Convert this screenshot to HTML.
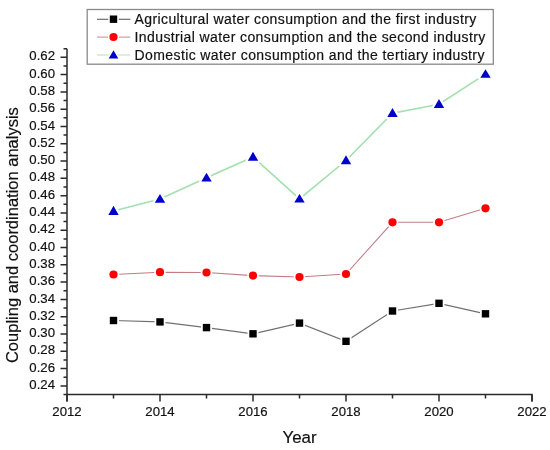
<!DOCTYPE html>
<html><head><meta charset="utf-8"><style>
html,body{margin:0;padding:0;background:#fff;width:550px;height:450px;overflow:hidden}
svg{display:block;will-change:transform;filter:blur(0.35px);font-family:"Liberation Sans",sans-serif}
text{stroke:#111;stroke-width:0.18px}
</style></head><body>
<svg width="550" height="450" viewBox="0 0 550 450">
<path d="M67.0,48.65 V401.53 M66.25,394.53 H532.0 V401.53" fill="none" stroke="#2a2a2a" stroke-width="1.5"/>
<path d="M63.5,394.53H67.0M60.5,385.89H67.0M63.5,377.24H67.0M60.5,368.59H67.0M63.5,359.94H67.0M60.5,351.3H67.0M63.5,342.65H67.0M60.5,334.0H67.0M63.5,325.36H67.0M60.5,316.71H67.0M63.5,308.06H67.0M60.5,299.42H67.0M63.5,290.77H67.0M60.5,282.12H67.0M63.5,273.48H67.0M60.5,264.83H67.0M63.5,256.18H67.0M60.5,247.53H67.0M63.5,238.89H67.0M60.5,230.24H67.0M63.5,221.59H67.0M60.5,212.95H67.0M63.5,204.3H67.0M60.5,195.65H67.0M63.5,187.0H67.0M60.5,178.36H67.0M63.5,169.71H67.0M60.5,161.06H67.0M63.5,152.42H67.0M60.5,143.77H67.0M63.5,135.12H67.0M60.5,126.48H67.0M63.5,117.83H67.0M60.5,109.18H67.0M63.5,100.54H67.0M60.5,91.89H67.0M63.5,83.24H67.0M60.5,74.59H67.0M63.5,65.95H67.0M60.5,57.3H67.0M63.5,48.65H67.0" stroke="#2a2a2a" stroke-width="1.5"/>
<path d="M67.0,394.53V401.53M113.5,394.53V398.53M160.0,394.53V401.53M206.5,394.53V398.53M253.0,394.53V401.53M299.5,394.53V398.53M346.0,394.53V401.53M392.5,394.53V398.53M439.0,394.53V401.53M485.5,394.53V398.53M532.0,394.53V401.53" stroke="#2a2a2a" stroke-width="1.5"/>
<g font-size="13.2" text-anchor="end" fill="#111"><text x="55" y="388.99">0.24</text><text x="55" y="371.69">0.26</text><text x="55" y="354.4">0.28</text><text x="55" y="337.1">0.30</text><text x="55" y="319.81">0.32</text><text x="55" y="302.52">0.34</text><text x="55" y="285.22">0.36</text><text x="55" y="267.93">0.38</text><text x="55" y="250.63">0.40</text><text x="55" y="233.34">0.42</text><text x="55" y="216.05">0.44</text><text x="55" y="198.75">0.46</text><text x="55" y="181.46">0.48</text><text x="55" y="164.16">0.50</text><text x="55" y="146.87">0.52</text><text x="55" y="129.58">0.54</text><text x="55" y="112.28">0.56</text><text x="55" y="94.99">0.58</text><text x="55" y="77.69">0.60</text><text x="55" y="60.4">0.62</text></g>
<g font-size="13.2" text-anchor="middle" fill="#111"><text x="67.0" y="416">2012</text><text x="160.0" y="416">2014</text><text x="253.0" y="416">2016</text><text x="346.0" y="416">2018</text><text x="439.0" y="416">2020</text><text x="532.0" y="416">2022</text></g>
<text x="299.5" y="443" font-size="16.9" text-anchor="middle" fill="#111">Year</text>
<text transform="translate(18,235.1) rotate(-90)" font-size="16.5" text-anchor="middle" fill="#111">Coupling and coordination analysis</text>
<polyline points="113.5,320.5 160.0,321.9 206.5,327.6 253.0,333.8 299.5,323.1 346.0,341.3 392.5,311 439.0,303.3 485.5,313.8" fill="none" stroke="#707070" stroke-width="1.25"/>
<polyline points="113.5,274.5 160.0,272.2 206.5,272.5 253.0,275.6 299.5,277 346.0,274 392.5,222.3 439.0,222.3 485.5,208.3" fill="none" stroke="#c47c84" stroke-width="1.1"/>
<polyline points="113.5,211.036 160.0,199.046 206.5,177.788 253.0,157.02 299.5,198.93 346.0,160.52 392.5,113.22 439.0,104.162 485.5,74.172" fill="none" stroke="#a2e0ac" stroke-width="1.6"/>
<g fill="#000" stroke="#fff" stroke-width="3.6" paint-order="stroke"><rect x="109.80" y="316.80" width="7.4" height="7.4"/><rect x="156.30" y="318.20" width="7.4" height="7.4"/><rect x="202.80" y="323.90" width="7.4" height="7.4"/><rect x="249.30" y="330.10" width="7.4" height="7.4"/><rect x="295.80" y="319.40" width="7.4" height="7.4"/><rect x="342.30" y="337.60" width="7.4" height="7.4"/><rect x="388.80" y="307.30" width="7.4" height="7.4"/><rect x="435.30" y="299.60" width="7.4" height="7.4"/><rect x="481.80" y="310.10" width="7.4" height="7.4"/></g>
<g fill="#f00" stroke="#fff" stroke-width="3.4" paint-order="stroke"><circle cx="113.5" cy="274.5" r="4.1"/><circle cx="160.0" cy="272.2" r="4.1"/><circle cx="206.5" cy="272.5" r="4.1"/><circle cx="253.0" cy="275.6" r="4.1"/><circle cx="299.5" cy="277" r="4.1"/><circle cx="346.0" cy="274" r="4.1"/><circle cx="392.5" cy="222.3" r="4.1"/><circle cx="439.0" cy="222.3" r="4.1"/><circle cx="485.5" cy="208.3" r="4.1"/></g>
<g fill="#0000cc" stroke="#fff" stroke-width="4.4" paint-order="stroke" stroke-linejoin="round"><path d="M113.5,205.7L118.7,214.9L108.3,214.9Z"/><path d="M160.0,194L165.2,202.7L154.8,202.7Z"/><path d="M206.5,172.8L211.7,181.4L201.3,181.4Z"/><path d="M253.0,151.8L258.2,160.8L247.8,160.8Z"/><path d="M299.5,194L304.7,202.5L294.3,202.5Z"/><path d="M346.0,155.3L351.2,164.3L340.8,164.3Z"/><path d="M392.5,108L397.7,117L387.3,117Z"/><path d="M439.0,99L444.2,107.9L433.8,107.9Z"/><path d="M485.5,69.3L490.7,77.7L480.3,77.7Z"/></g>
<rect x="87.2" y="9.5" width="406.1" height="54.7" fill="#fff" stroke="#8a8a8a" stroke-width="1.3"/>
<path d="M97,19.2H130.3" stroke="#505050" stroke-width="1.1"/>
<rect x="109.8" y="15.5" width="7.4" height="7.4" fill="#000" stroke="#fff" stroke-width="3" paint-order="stroke"/>
<text x="134.6" y="23.5" font-size="14" letter-spacing="0.39" fill="#111">Agricultural water consumption and the first industry</text>
<path d="M97,37.2H130.3" stroke="#d4a0a6" stroke-width="1.3"/>
<circle cx="113.5" cy="37.0" r="4.1" fill="#f00" stroke="#fff" stroke-width="3" paint-order="stroke"/>
<text x="134.6" y="41.7" font-size="14" letter-spacing="0.39" fill="#111">Industrial water consumption and the second industry</text>
<path d="M97,55.1H130.3" stroke="#c8ecd0" stroke-width="1.5"/>
<path d="M113.5,50.2L118.3,58.4L108.7,58.4Z" fill="#0000cc" stroke="#fff" stroke-width="3" paint-order="stroke"/>
<text x="134.6" y="60.3" font-size="14" letter-spacing="0.39" fill="#111">Domestic water consumption and the tertiary industry</text>
</svg>
</body></html>
